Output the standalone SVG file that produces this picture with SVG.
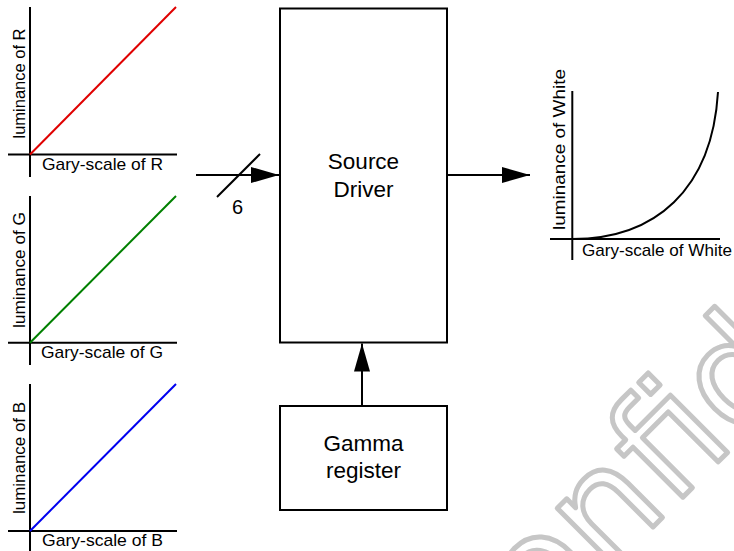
<svg xmlns="http://www.w3.org/2000/svg" width="734" height="551" viewBox="0 0 734 551">
<style>
text{font-family:"Liberation Sans",Arial,sans-serif;fill:#000}
.lbl{font-size:17px}
.big{font-size:22.5px;text-anchor:middle}
.ax{stroke:#000;stroke-width:2;fill:none}
.box{fill:#fff;stroke:#000;stroke-width:2}
.wire{stroke:#000;stroke-width:2;fill:none}
.wm{font-family:"DejaVu Sans",sans-serif;font-size:148px;fill:#fff;stroke:#c6c6c6;stroke-width:5;stroke-linejoin:round}
</style>
<defs>
<marker id="ah" viewBox="0 0 28 16" refX="28" refY="8" markerWidth="28" markerHeight="16" markerUnits="userSpaceOnUse" orient="auto">
<path d="M0,0 L28,8 L0,16 Z" fill="#000"/>
</marker>
</defs>
<text class="wm" transform="translate(468,712) rotate(-45)">Confidential</text>
<g id="chartR">
<line class="ax" x1="30" y1="7" x2="30" y2="177"/>
<line class="ax" x1="8" y1="154.5" x2="177" y2="154.5"/>
<line x1="30" y1="154.5" x2="176" y2="7" stroke="#e00000" stroke-width="2"/>
<text class="lbl" x="42" y="170" textLength="121" lengthAdjust="spacingAndGlyphs">Gary-scale of R</text>
<text class="lbl" transform="translate(25,138.5) rotate(-90)" textLength="110" lengthAdjust="spacingAndGlyphs">luminance of R</text>
</g>
<g id="chartG">
<line class="ax" x1="30" y1="196" x2="30" y2="365"/>
<line class="ax" x1="8" y1="342.7" x2="177" y2="342.7"/>
<line x1="30" y1="342.7" x2="176" y2="196" stroke="#008000" stroke-width="2"/>
<text class="lbl" x="41" y="358" textLength="122" lengthAdjust="spacingAndGlyphs">Gary-scale of G</text>
<text class="lbl" transform="translate(25,328) rotate(-90)" textLength="116" lengthAdjust="spacingAndGlyphs">luminance of G</text>
</g>
<g id="chartB">
<line class="ax" x1="30" y1="384" x2="30" y2="551"/>
<line class="ax" x1="8" y1="531" x2="177" y2="531"/>
<line x1="30" y1="531" x2="176" y2="384" stroke="#0000f0" stroke-width="2"/>
<text class="lbl" x="42" y="546" textLength="121" lengthAdjust="spacingAndGlyphs">Gary-scale of B</text>
<text class="lbl" transform="translate(25,514) rotate(-90)" textLength="112" lengthAdjust="spacingAndGlyphs">luminance of B</text>
</g>
<g id="sourceDriver">
<rect class="box" x="280" y="8.5" width="167" height="334"/>
<text class="big" x="363.5" y="169">Source</text>
<text class="big" x="363.5" y="197">Driver</text>
</g>
<g id="gammaRegister">
<rect class="box" x="280" y="406" width="167" height="104"/>
<text class="big" x="363.5" y="450.5">Gamma</text>
<text class="big" x="363.5" y="478">register</text>
</g>
<g id="chartWhite">
<line class="ax" x1="572.3" y1="91" x2="572.3" y2="260"/>
<line class="ax" x1="550" y1="239" x2="720" y2="239"/>
<path d="M572.3,239 C655,239 712,190 718,92" fill="none" stroke="#000" stroke-width="2"/>
<text class="lbl" x="582" y="256" textLength="150" lengthAdjust="spacingAndGlyphs">Gary-scale of White</text>
<text class="lbl" transform="translate(565,230) rotate(-90)" textLength="161" lengthAdjust="spacingAndGlyphs">luminance of White</text>
</g>
<g id="connectors">
<line class="wire" x1="196" y1="175" x2="279" y2="175" marker-end="url(#ah)"/>
<line class="wire" x1="217" y1="197" x2="260" y2="154"/>
<text x="232" y="214" font-size="20">6</text>
<line class="wire" x1="447" y1="175" x2="530" y2="175" marker-end="url(#ah)"/>
<line class="wire" x1="362" y1="406" x2="362" y2="343.5" marker-end="url(#ah)"/>
</g>
</svg>
